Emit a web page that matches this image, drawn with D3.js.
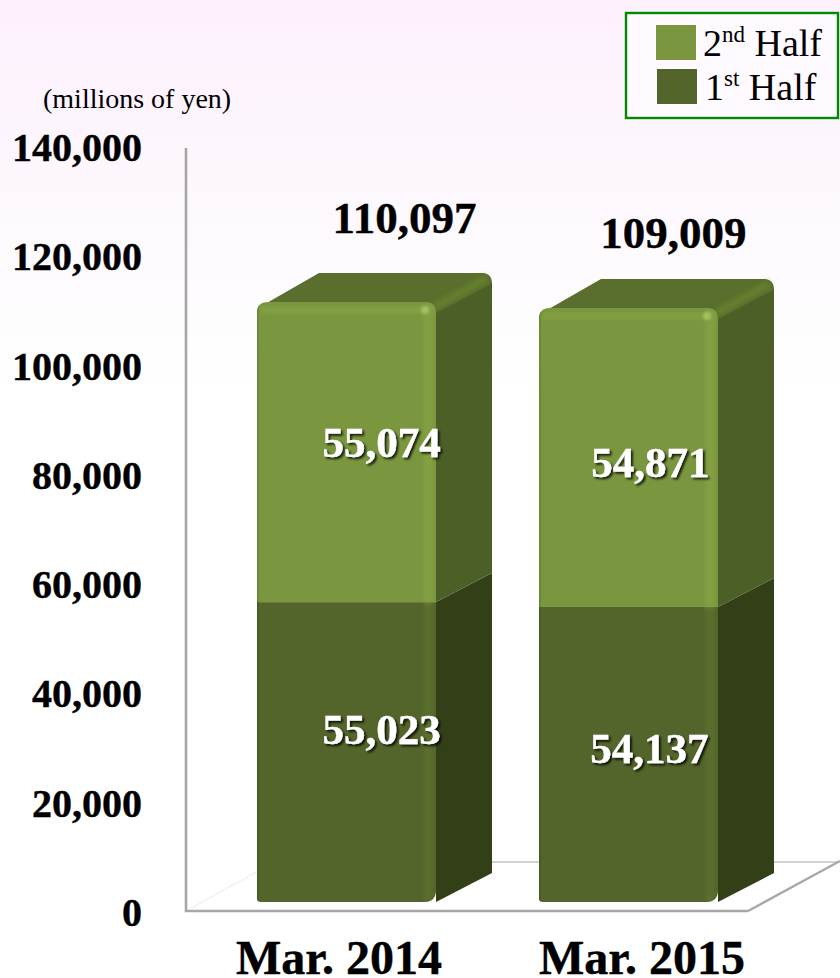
<!DOCTYPE html>
<html>
<head>
<meta charset="utf-8">
<script src="https://cdn.jsdelivr.net/npm/d3@7/dist/d3.min.js"></script>
<style>
html,body{margin:0;padding:0;background:#fff}
svg{display:block}
text{font-family:"Liberation Serif","Times New Roman",serif;fill:#000}
.heavy{font-weight:bold;stroke:#000;stroke-width:0.4px}
</style>
</head>
<body>
<svg id="chart" width="840" height="978"></svg>
<script>
// Net sales by half year, millions of yen
const categories = ["Mar. 2014", "Mar. 2015"];
const firstHalf = [55023, 54137];
const secondHalf = [55074, 54871];
const totals = [110097, 109009];
const yTicks = [0, 20000, 40000, 60000, 80000, 100000, 120000, 140000];
const legendItems = [
  {base: "2", sup: "nd", rest: " Half"},
  {base: "1", sup: "st", rest: " Half"}
];

const W = 840, H = 978;
const svg = d3.select("#chart");
const defs = svg.append("defs");

// Scales: the axis sits on the back plane, bars on a plane lifted by frontLift
const y = d3.scaleLinear().domain([0, 140000]).range([911, 148]);
const tickY = d3.scaleLinear().domain([0, 140000]).range([913, 148]);
const frontLift = 9;
const x = d3.scaleBand().domain(categories).range([257, 718]).paddingInner(0.3652).paddingOuter(0);
const depthX = 56, depthY = -29;

const fmt = d3.format(",");
const rows = categories.map((c, i) => ({cat: c, first: firstHalf[i], second: secondHalf[i], total: totals[i], i}));
const stacked = d3.stack().keys(["first", "second"])(rows);

// Page wash
const bg = defs.append("linearGradient").attr("id", "wash").attr("x1", 0).attr("x2", 0).attr("y1", 0).attr("y2", 1);
bg.append("stop").attr("offset", 0).attr("stop-color", "#fcf0fd");
bg.append("stop").attr("offset", 0.33).attr("stop-color", "#fefdfe");
bg.append("stop").attr("offset", 0.4).attr("stop-color", "#ffffff");
svg.append("rect").attr("width", W).attr("height", H).attr("fill", "url(#wash)");

defs.append("filter").attr("id", "soft").attr("x", "-30%").attr("y", "-30%").attr("width", "160%").attr("height", "160%")
  .append("feGaussianBlur").attr("stdDeviation", 2.4);
defs.append("filter").attr("id", "lineSoft").attr("x", "-100%").attr("y", "-100%").attr("width", "300%").attr("height", "300%")
  .append("feGaussianBlur").attr("stdDeviation", 1.3);
const shadow = defs.append("filter").attr("id", "labelShadow").attr("x", "-10%").attr("y", "-20%").attr("width", "125%").attr("height", "150%");
shadow.append("feDropShadow").attr("dx", 2).attr("dy", 2).attr("stdDeviation", 1.1).attr("flood-color", "#000").attr("flood-opacity", 0.8);

// Floor and wall outlines
const floor = svg.append("g").attr("fill", "none");
const floorY = y(0);
floor.append("path").attr("d", `M${x(categories[0]) + x.bandwidth()},${floorY - 49}H${W}`)
  .attr("stroke", "#d2d2d2").attr("stroke-width", 2);
floor.append("path").attr("d", `M186,${floorY}L262,${floorY - 42}`)
  .attr("stroke", "#e6e6e6").attr("stroke-width", 1.2).attr("stroke-dasharray", "2 1");
floor.append("path").attr("d", `M748,${floorY}L${W},${floorY - 50}`)
  .attr("stroke", "#a8a8a8").attr("stroke-width", 2.4);
floor.append("path").attr("d", `M186,${y(140000)}V${floorY}H748`)
  .attr("stroke", "#a6a6a6").attr("stroke-width", 2.6);

// Tick labels
svg.append("g").selectAll("text").data(yTicks).join("text")
  .attr("class", "heavy")
  .attr("x", 142).attr("y", d => tickY(d) + 13).attr("text-anchor", "end")
  .attr("font-size", 40).text(fmt);

// Unit caption
svg.append("text").attr("x", 43).attr("y", 108).attr("font-size", 28).text("(millions of yen)");

// Bars
const palette = {
  first: {front: "#53652a", side: "#333f17", glow: "#5b6f2d"},
  second: {front: "#7a963e", side: "#4c5f26", glow: "#84a244"}
};
const topFill = "#5a6e2d";

const barG = svg.append("g");
rows.forEach((row, i) => {
  const g = barG.append("g");
  const left = x(row.cat), right = left + x.bandwidth();
  const py = v => y(v) - frontLift;
  const base = py(0), mid = py(row.first), top = py(row.first + row.second);
  const clipId = "front" + i;

  const r = 11;
  // Side faces
  const sideLow = d3.path();
  sideLow.moveTo(right, base); sideLow.lineTo(right + depthX, base + depthY);
  sideLow.lineTo(right + depthX, mid + depthY); sideLow.lineTo(right, mid); sideLow.closePath();
  g.append("path").attr("d", sideLow.toString()).attr("fill", palette.first.side);

  const sideHigh = d3.path();
  sideHigh.moveTo(right, mid); sideHigh.lineTo(right + depthX, mid + depthY);
  sideHigh.lineTo(right + depthX, top + depthY + r);
  sideHigh.quadraticCurveTo(right + depthX, top + depthY, right + depthX - r, top + depthY);
  sideHigh.lineTo(right - r, top); sideHigh.lineTo(right, top + r); sideHigh.closePath();
  g.append("path").attr("d", sideHigh.toString()).attr("fill", palette.second.side);

  // Top face
  const topFace = d3.path();
  topFace.moveTo(left + 8, top + 2);
  topFace.lineTo(left + depthX + 6, top + depthY);
  topFace.lineTo(right + depthX - r, top + depthY);
  topFace.quadraticCurveTo(right + depthX - 1, top + depthY, right + depthX - 1, top + depthY + r);
  topFace.lineTo(right, top + r);
  topFace.closePath();
  g.append("path").attr("d", topFace.toString()).attr("fill", topFill);

  // Ridge running from the front corner to the back corner
  g.append("path")
    .attr("d", `M${right - 2},${top + 5}L${right + depthX - 5},${top + depthY + 5}`)
    .attr("stroke", "#66802f").attr("stroke-width", 7).attr("fill", "none").attr("filter", "url(#soft)");

  // Front outline with rounded upper corners
  const frontOutline = d3.path();
  frontOutline.moveTo(left + 4, base);
  frontOutline.quadraticCurveTo(left, base, left, base - 4);
  frontOutline.lineTo(left, top + r);
  frontOutline.quadraticCurveTo(left, top, left + r, top);
  frontOutline.lineTo(right - r, top);
  frontOutline.quadraticCurveTo(right, top, right, top + r);
  frontOutline.lineTo(right, base - 12);
  frontOutline.quadraticCurveTo(right, base, right - 12, base);
  frontOutline.closePath();
  defs.append("clipPath").attr("id", clipId).append("path").attr("d", frontOutline.toString());

  const front = g.append("g").attr("clip-path", `url(#${clipId})`);
  const seg = (key, y0, y1) => {
    front.append("rect").attr("x", left).attr("y", y1).attr("width", right - left).attr("height", y0 - y1)
      .attr("fill", palette[key].front);
    // Lit strip down the right edge
    front.append("rect").attr("x", right - 12).attr("y", y1).attr("width", 8).attr("height", y0 - y1)
      .attr("fill", palette[key].glow).attr("filter", "url(#soft)");
  };
  seg("first", base, mid);
  seg("second", mid, top);
  // Lit strip across the top edge and the corner glint
  front.append("rect").attr("x", left + 3).attr("y", top + 5).attr("width", right - left - 6).attr("height", 6)
    .attr("fill", "#84a244").attr("filter", "url(#soft)");
  front.append("circle").attr("cx", right - 11).attr("cy", top + 8).attr("r", 4)
    .attr("fill", "#a3bf5e").attr("filter", "url(#lineSoft)");
  // Left rim
  front.append("rect").attr("x", left).attr("y", top).attr("width", 2).attr("height", mid - top).attr("fill", "#6d8836");
  front.append("rect").attr("x", left).attr("y", mid).attr("width", 2).attr("height", base - mid).attr("fill", "#4a5b25");
});

// Hand-tuned label placement relative to the segment or bar it belongs to
const labelNudge = {
  first: [{dx: 35, dy: -21}, {dx: 21, dy: -4}],
  second: [{dx: 35, dy: -8}, {dx: 22, dy: 7}],
  total: [{dx: 58, dy: -69}, {dx: 45, dy: -60}]
};

stacked.forEach(layer => {
  const key = layer.key;
  svg.append("g").selectAll("text").data(layer).join("text")
    .attr("x", d => x(d.data.cat) + x.bandwidth() / 2 + labelNudge[key][d.data.i].dx)
    .attr("y", d => (y(d[0]) + y(d[1])) / 2 - frontLift + labelNudge[key][d.data.i].dy + 13)
    .attr("text-anchor", "middle").attr("font-size", 43).attr("font-weight", "bold")
    .attr("filter", "url(#labelShadow)")
    .style("fill", "#fff").style("stroke", "#fff").style("stroke-width", "0.4px")
    .text(d => fmt(d.data[key]));
});

// Totals above the bars
svg.append("g").selectAll("text").data(rows).join("text")
  .attr("class", "heavy")
  .attr("x", d => x(d.cat) + x.bandwidth() / 2 + labelNudge.total[d.i].dx)
  .attr("y", d => y(d.total) - frontLift + labelNudge.total[d.i].dy)
  .attr("text-anchor", "middle").attr("font-size", 45)
  .text(d => fmt(d.total));

// Category labels
const catX = d3.scalePoint().domain(categories).range([339, 642]);
svg.append("g").selectAll("text").data(categories).join("text")
  .attr("class", "heavy")
  .attr("x", d => catX(d)).attr("y", 974).attr("text-anchor", "middle")
  .attr("font-size", 48).text(d => d);

// Legend
svg.append("rect").attr("x", 626).attr("y", 13).attr("width", 212).attr("height", 105)
  .attr("fill", "#fffaff").attr("stroke", "#008a00").attr("stroke-width", 2.4);
const legendFill = [palette.second.front, palette.first.front];
const legend = svg.append("g").selectAll("g").data(legendItems).join("g")
  .attr("transform", (d, i) => `translate(${656 + i},${25 + i * 44})`);
legend.append("rect").attr("width", 40).attr("height", 35).attr("fill", (d, i) => legendFill[i]);
const label = legend.append("text").attr("x", (d, i) => 47 + i).attr("y", 31).attr("font-size", 38);
label.append("tspan").text(d => d.base);
label.append("tspan").attr("font-size", 23).attr("dy", -14).text(d => d.sup);
label.append("tspan").attr("dy", 14).text(d => d.rest);
</script>
</body>
</html>
